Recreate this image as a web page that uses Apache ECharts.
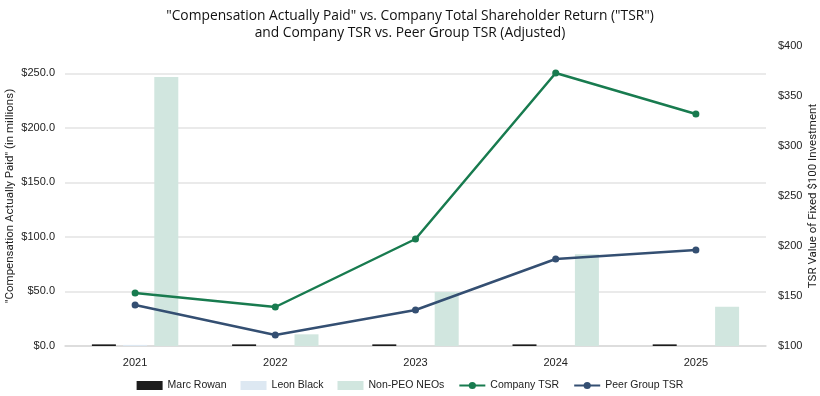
<!DOCTYPE html>
<html>
<head>
<meta charset="utf-8">
<script src="https://cdn.jsdelivr.net/npm/echarts@6/dist/echarts.min.js"></script>
<style>
  html, body { margin: 0; padding: 0; background: #fff; }
  #chart { width: 820px; height: 396px; }
</style>
</head>
<body>
<div id="chart"></div>
<script>
// data
var years = ['2021', '2022', '2023', '2024', '2025'];
var marcRowan = [1.5, 1.5, 1.5, 1.5, 1.5];
var leonBlack = [1.0, null, null, null, null];
var nonPeoNeos = [246.5, 10.7, 49.5, 84.2, 36.0];
var companyTsr = [153, 139, 207, 373, 332];
var peerTsr = [141, 111, 136, 187, 196];

var labelFont = 'Liberation Sans';
var nameFont = 'Roboto';
var myChart = echarts.init(document.getElementById('chart'));

var option = {
    animation: false,
    backgroundColor: '#fff',
    title: {
        text: '"Compensation Actually Paid" vs. Company Total Shareholder Return ("TSR")\nand Company TSR vs. Peer Group TSR (Adjusted)',
        left: 'center',
        top: 3,
        textStyle: {
            fontFamily: 'Open Sans',
            fontWeight: 'normal',
            fontSize: 13.8,
            color: '#111',
            lineHeight: 17
        }
    },
    grid: { left: 65, right: 54, top: 46, bottom: 50, outerBoundsMode: 'none' },
    legend: {
        bottom: 0,
        left: 'center',
        itemWidth: 26,
        itemHeight: 9,
        itemGap: 14,
        textStyle: { fontFamily: labelFont, fontSize: 10.5, color: '#222' },
        data: [
            { name: 'Marc Rowan', icon: 'rect' },
            { name: 'Leon Black', icon: 'rect' },
            { name: 'Non-PEO NEOs', icon: 'rect' },
            { name: 'Company TSR' },
            { name: 'Peer Group TSR' }
        ]
    },
    xAxis: {
        type: 'category',
        data: years,
        axisLine: { lineStyle: { color: '#d9d9d9', width: 1.5 } },
        axisTick: { show: false },
        axisLabel: { fontFamily: labelFont, fontSize: 11, color: '#222', margin: 11 }
    },
    yAxis: [
        {
            type: 'value',
            min: 0,
            max: 275,
            interval: 50,
            name: '"Compensation Actually Paid" (in millions)',
            nameLocation: 'middle',
            nameGap: 49,
            nameMoveOverlap: false,
            nameTextStyle: { fontFamily: nameFont, fontSize: 11.5, color: '#222' },
            axisLabel: {
                fontFamily: labelFont, fontSize: 11, color: '#222', margin: 10,
                showMaxLabel: false,
                formatter: function (v) { return '$' + v.toFixed(1); }
            },
            axisLine: { show: false },
            axisTick: { show: false },
            splitLine: { showMaxLine: false, lineStyle: { color: '#e3e3e3', width: 1.5 } }
        },
        {
            type: 'value',
            min: 100,
            max: 400,
            interval: 50,
            name: 'TSR Value of Fixed $100 Investment',
            nameLocation: 'middle',
            nameGap: 41,
            nameRotate: 90,
            nameMoveOverlap: false,
            nameTextStyle: { fontFamily: nameFont, fontSize: 11.5, color: '#222' },
            axisLabel: {
                fontFamily: labelFont, fontSize: 11, color: '#222', margin: 12,
                formatter: function (v) { return '$' + v; }
            },
            axisLine: { show: false },
            axisTick: { show: false },
            splitLine: { show: false }
        }
    ],
    series: [
        {
            name: 'Marc Rowan',
            type: 'bar',
            data: marcRowan,
            barWidth: 24,
            barGap: '30%',
            itemStyle: { color: '#1c1c1c' }
        },
        {
            name: 'Leon Black',
            type: 'bar',
            data: leonBlack,
            barWidth: 24,
            barGap: '30%',
            itemStyle: { color: '#dde8f2' }
        },
        {
            name: 'Non-PEO NEOs',
            type: 'bar',
            data: nonPeoNeos,
            barWidth: 24,
            barGap: '30%',
            itemStyle: { color: '#d1e6df' }
        },
        {
            name: 'Company TSR',
            type: 'line',
            yAxisIndex: 1,
            data: companyTsr,
            symbol: 'circle',
            symbolSize: 7,
            lineStyle: { color: '#187b4f', width: 2.5 },
            itemStyle: { color: '#187b4f' }
        },
        {
            name: 'Peer Group TSR',
            type: 'line',
            yAxisIndex: 1,
            data: peerTsr,
            symbol: 'circle',
            symbolSize: 7,
            lineStyle: { color: '#344f72', width: 2.5 },
            itemStyle: { color: '#344f72' }
        }
    ]
};
myChart.setOption(option);
</script>
</body>
</html>
